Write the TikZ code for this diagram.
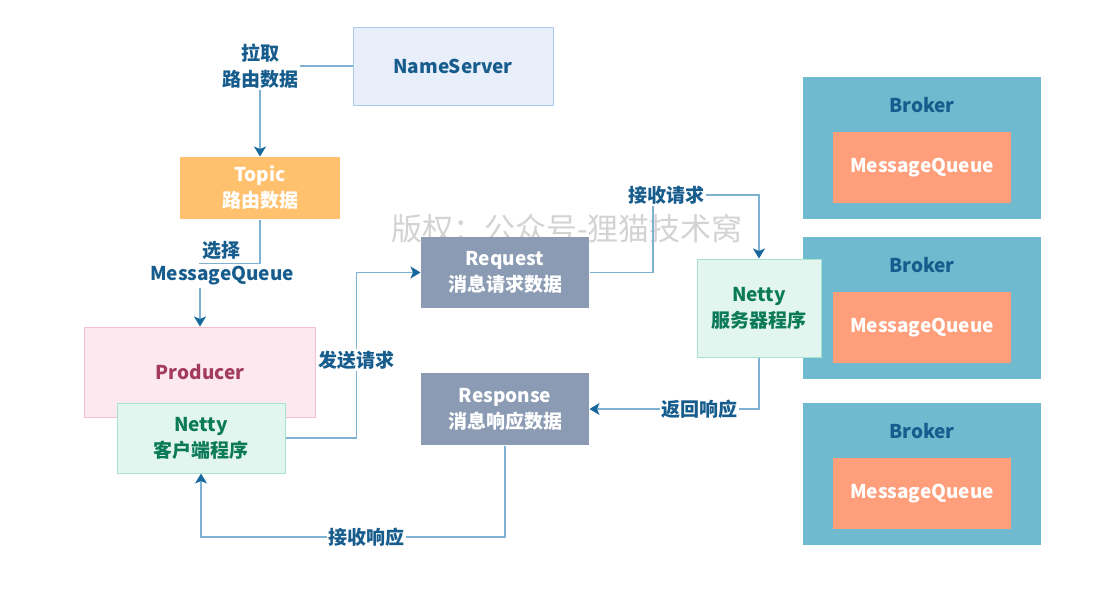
\documentclass[tikz,border=0pt]{standalone}
\usepackage{fontspec}
\setmainfont{Noto Sans CJK SC}
\usetikzlibrary{arrows.meta}

\definecolor{lineblue}{HTML}{7DB2D3}
\definecolor{arrowblue}{HTML}{16679C}
\definecolor{labelblue}{HTML}{165C8C}
\definecolor{nsfill}{HTML}{E8EFFA}
\definecolor{nsdraw}{HTML}{A8CBEE}
\definecolor{topicfill}{HTML}{FFC16E}
\definecolor{prodfill}{HTML}{FCE9EF}
\definecolor{proddraw}{HTML}{F7BFD0}
\definecolor{prodtext}{HTML}{A23B5E}
\definecolor{nettyfill}{HTML}{E3F5EF}
\definecolor{nettydraw}{HTML}{A6E3CE}
\definecolor{nettytext}{HTML}{0B7A57}
\definecolor{msgfill}{HTML}{8A9BB3}
\definecolor{brokerfill}{HTML}{6FBACF}
\definecolor{queuefill}{HTML}{FF9E7B}
\definecolor{wmgray}{HTML}{D3D3D3}

\tikzset{
    box/.style={rectangle, inner sep=0pt, align=center, line width=1pt,
        font=\bfseries\fontsize{19}{26}\selectfont},
    link/.style={line width=1.3pt, draw=lineblue,
        -{Stealth[length=10pt, width=12pt, inset=2.5pt, color=arrowblue]}},
    lbl/.style={fill=white, text=labelblue, inner sep=1.5pt, align=center,
        font=\bfseries\fontsize{19}{26}\selectfont},
    broker/.style={box, fill=brokerfill, minimum width=238pt, minimum height=142pt},
    queue/.style={box, fill=queuefill, text=white, minimum width=178pt, minimum height=71pt},
    msgbox/.style={box, fill=msgfill, text=white, minimum width=168pt},
    netty/.style={box, draw=nettydraw, fill=nettyfill, text=nettytext},
}

\begin{document}
\begin{tikzpicture}[x=1pt, y=-1pt]
            % Fix the page size
            \useasboundingbox (0,0) rectangle (1104,606);

            % Draw the watermark
            \node[text=wmgray, font=\fontsize{31}{34}\selectfont] (wm) at (567,229) {版权：公众号-狸猫技术窝};

            % Draw the brokers with their queues
            \foreach \i/\y in {1/148, 2/308, 3/474} {
                \node[broker] (broker\i) at (922,\y) {};
                \node[box, text=labelblue] (bklbl\i) at (922,\y-43) {Broker};
                \node[queue] (mq\i) at (922,\y+19.5) {MessageQueue};
            }

            % Draw the left side boxes
            \node[box, draw=nsdraw, fill=nsfill, text=labelblue, minimum width=200pt, minimum height=78pt] (nameserver) at (453,66) {NameServer};
            \node[box, fill=topicfill, text=white, minimum width=160pt, minimum height=62pt] (topic) at (260,188) {Topic\\路由数据};
            \node[box, draw=proddraw, fill=prodfill, text=prodtext, minimum width=231pt, minimum height=90pt] (producer) at (200,372) {Producer};
            \node[netty, minimum width=168pt, minimum height=70pt] (client) at (201,438) {Netty\\客户端程序};

            % Draw the message boxes
            \node[msgbox, minimum height=71pt] (request) at (505,272.5) {Request\\消息请求数据};
            \node[msgbox, minimum height=72pt] (response) at (505,409) {Response\\消息响应数据};

            % Draw the server side netty
            \node[netty, minimum width=124pt, minimum height=98pt] (server) at (759,308) {Netty\\服务器程序};

            % Turning points
            \coordinate (reqtop) at (653,195);
            \coordinate (resbot) at (505,537);

            % Draw the connectors
            \draw[link] (nameserver.west) -| node[lbl, pos=0.5] {拉取\\路由数据} (topic.north);
            \draw[link] (topic.south) -- ++(0,44) -| (producer.north);
            \node[lbl, inner sep=3pt] (pick) at (221,250) {选择};
            \node[lbl, inner sep=3pt] (pickmq) at (222,276) {MessageQueue};
            \draw[link] (client.east) -| node[lbl, pos=0.736] {发送请求} ([xshift=-64pt]request.west) -- (request.west);
            \draw[link] (request.east) -| (reqtop) -- node[lbl, pos=0.13] {接收请求} (reqtop -| server.north) -- (server.north);
            \draw[link] (server.south) |- node[lbl, pos=0.675] {返回响应} (response.east);
            \draw[link] (response.south) -- (resbot) -| node[lbl, pos=0.227] {接收响应} (client.south);

        \end{tikzpicture}
\end{document}
